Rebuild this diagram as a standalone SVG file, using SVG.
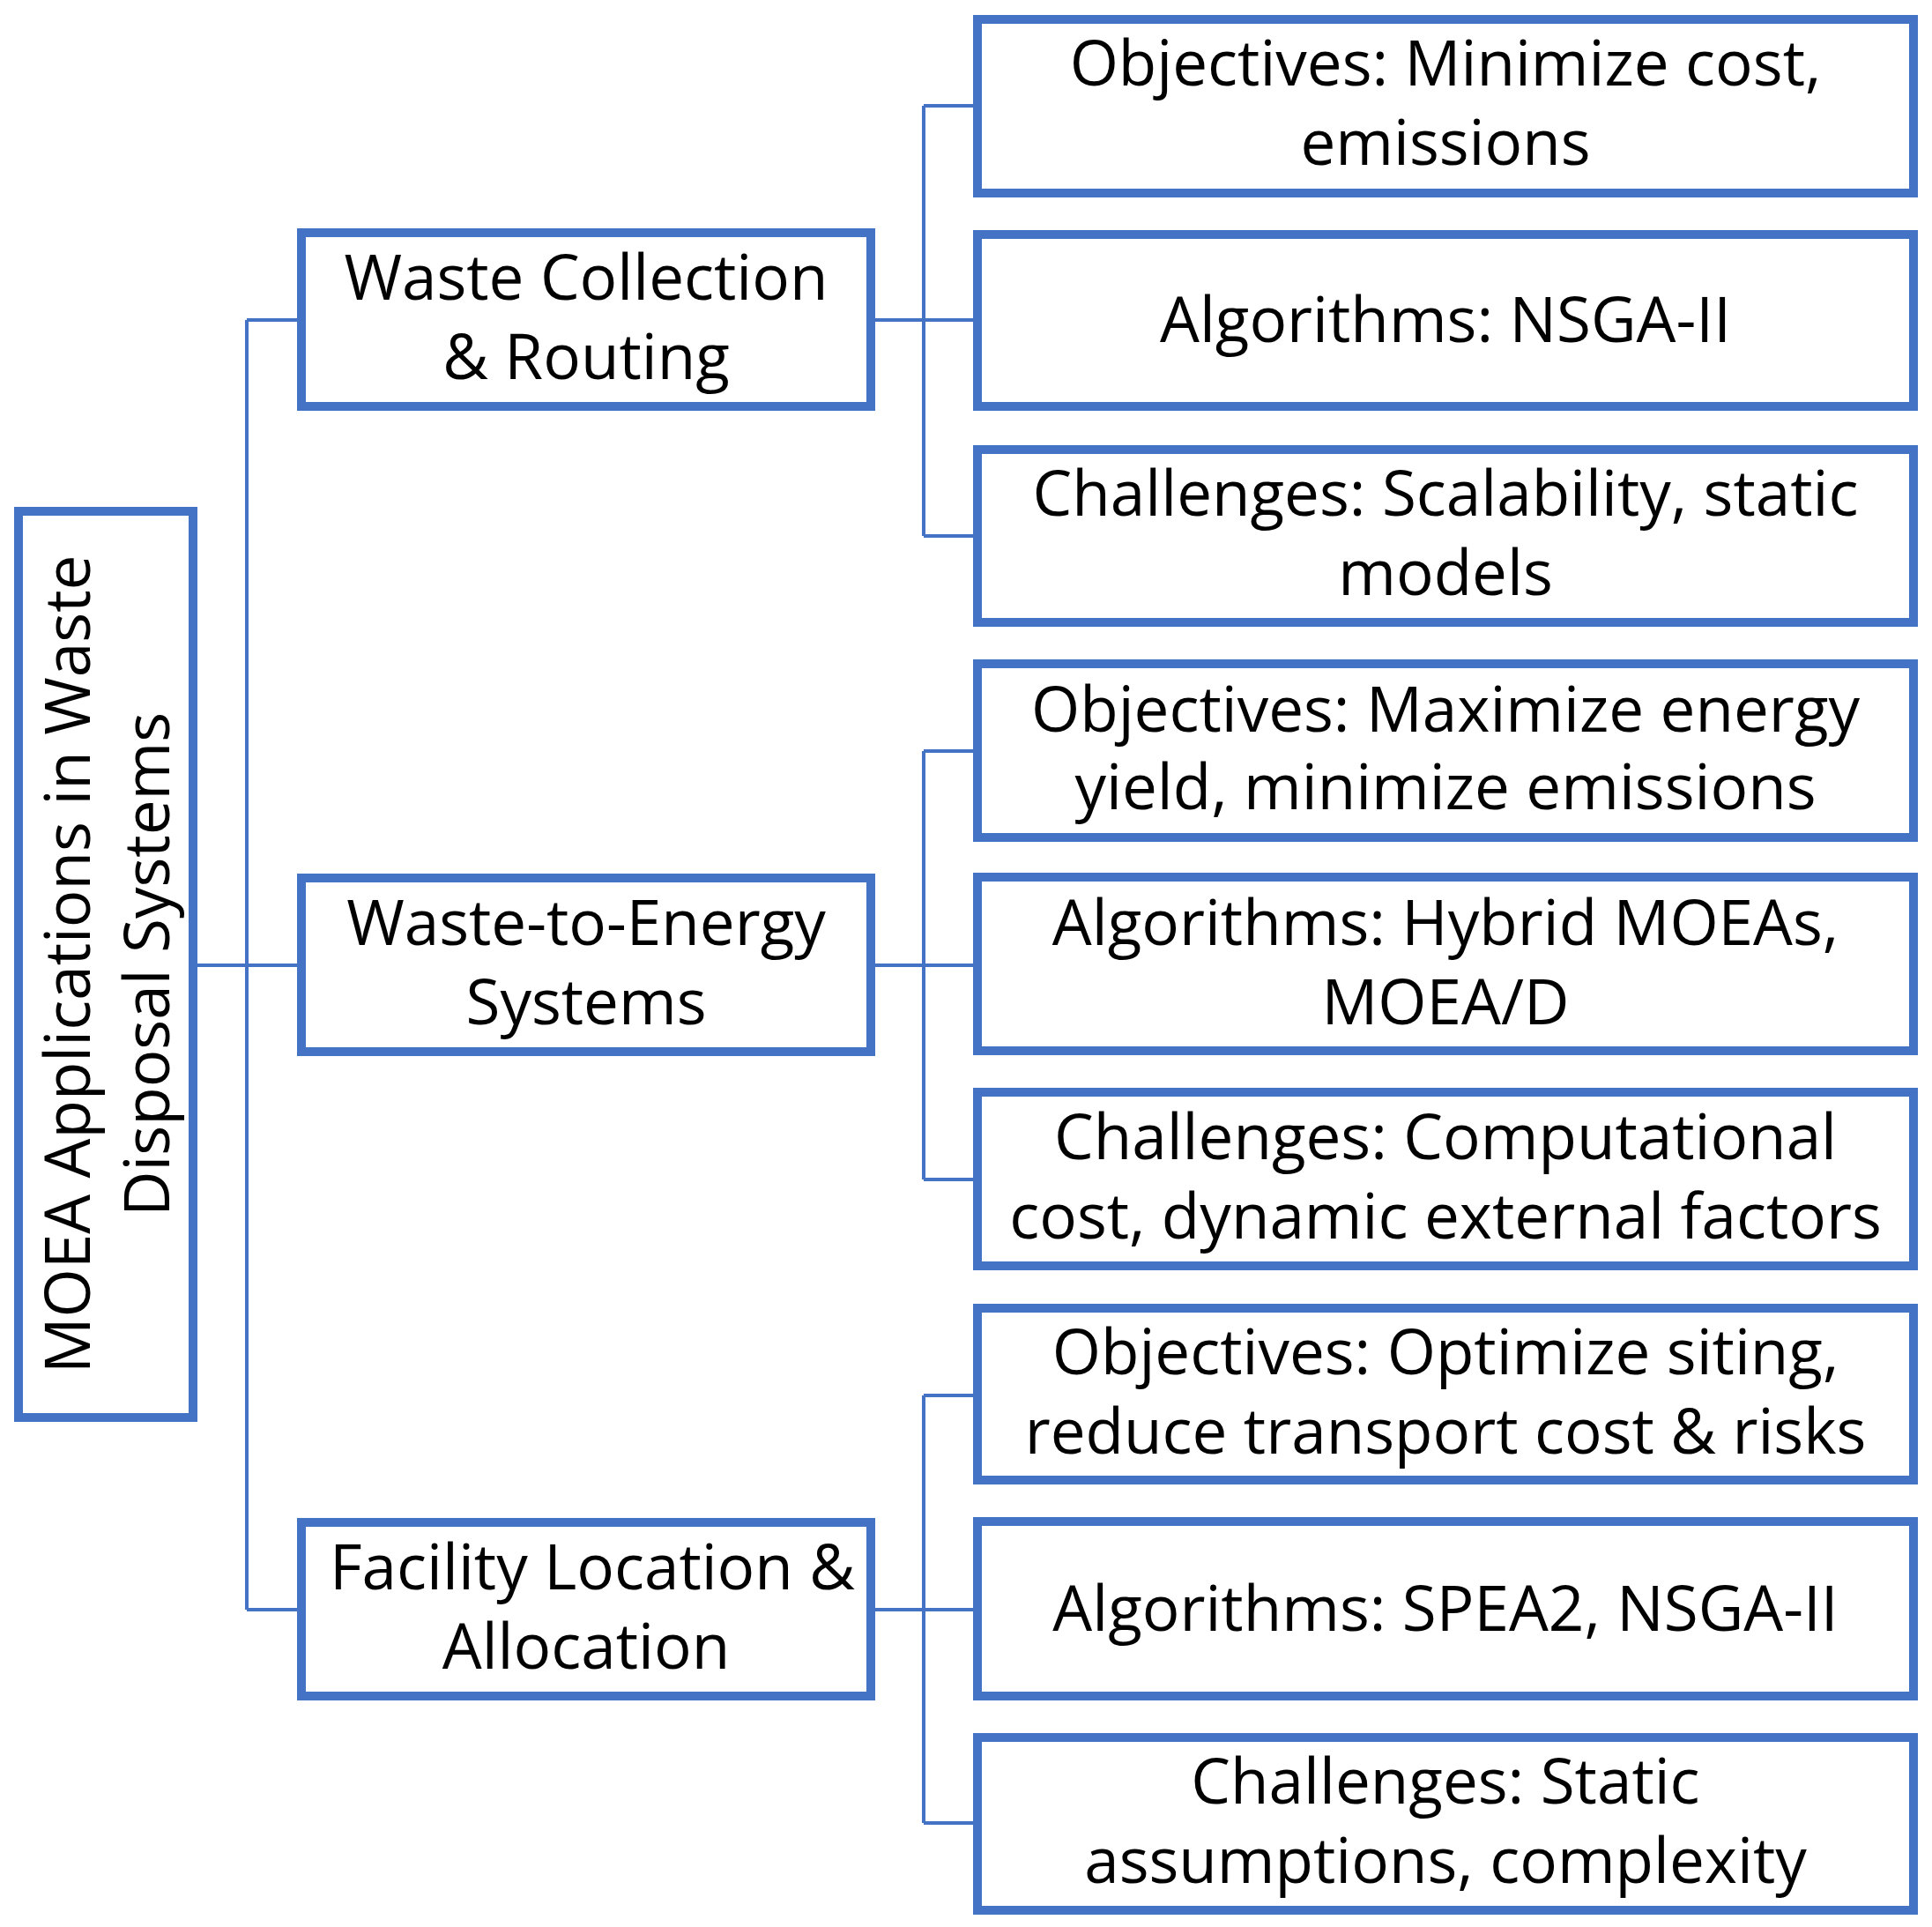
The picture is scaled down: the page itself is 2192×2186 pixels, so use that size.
<svg xmlns="http://www.w3.org/2000/svg" width="2192" height="2186" viewBox="0 0 2192 2186">
<style>
.b{fill:#fff;stroke:#4472C4;stroke-width:10}
.t{font-family:"Open Sans","Noto Sans",sans-serif;font-size:71px;fill:#000;text-anchor:middle}
.c{fill:none;stroke:#4472C4;stroke-width:4}
</style>
<rect width="2192" height="2186" fill="#fff"/>
<g id="connectors" class="c">
<path d="M219 1095H280M280 363V1826M280 363H342M280 1095H342M280 1826H342"/>
<path d="M988 363H1109M1048 120V608M1048 120H1109M1048 608H1109"/>
<path d="M988 1095H1109M1048 852V1338M1048 852H1109M1048 1338H1109"/>
<path d="M988 1826H1109M1048 1583V2068M1048 1583H1109M1048 2068H1109"/>
</g>
<g id="root"><rect class="b" x="21" y="580" width="198" height="1028"/>
<text class="t" transform="translate(120 1094) rotate(-90)"><tspan x="0" y="-18">MOEA Applications in Waste</tspan><tspan x="0" y="72">Disposal Systems</tspan></text></g>
<g id="n1"><rect class="b" x="342" y="264" width="646" height="197"/><text class="t" x="665" y="340">Waste Collection<tspan x="665" dy="90">&amp; Routing</tspan></text></g>
<g id="n2"><rect class="b" x="342" y="996" width="646" height="197"/><text class="t" x="665" y="1072">Waste-to-Energy<tspan x="665" dy="90">Systems</tspan></text></g>
<g id="n3"><rect class="b" x="342" y="1727" width="646" height="197"/><text class="t" x="672" y="1803">Facility Location &amp;<tspan x="665" dy="90">Allocation</tspan></text></g>
<g id="a1"><rect class="b" x="1109" y="22" width="1062" height="197"/><text class="t" x="1640" y="97">Objectives: Minimize cost,<tspan x="1640" dy="90">emissions</tspan></text></g>
<g id="a2"><rect class="b" x="1109" y="266" width="1062" height="195"/><text class="t" x="1640" y="388">Algorithms: NSGA-II</text></g>
<g id="a3"><rect class="b" x="1109" y="510" width="1062" height="196"/><text class="t" x="1640" y="585">Challenges: Scalability, static<tspan x="1640" dy="90">models</tspan></text></g>
<g id="b1"><rect class="b" x="1109" y="753" width="1062" height="197"/><text class="t" x="1640" y="830">Objectives: Maximize energy<tspan x="1640" dy="88">yield, minimize emissions</tspan></text></g>
<g id="b2"><rect class="b" x="1109" y="995" width="1062" height="197"/><text class="t" x="1640" y="1072">Algorithms: Hybrid MOEAs,<tspan x="1640" dy="90">MOEA/D</tspan></text></g>
<g id="b3"><rect class="b" x="1109" y="1239" width="1062" height="197"/><text class="t" x="1640" y="1315">Challenges: Computational<tspan x="1640" dy="90">cost, dynamic external factors</tspan></text></g>
<g id="c1"><rect class="b" x="1109" y="1484" width="1062" height="195"/><text class="t" x="1640" y="1559">Objectives: Optimize siting,<tspan x="1640" dy="90">reduce transport cost &amp; risks</tspan></text></g>
<g id="c2"><rect class="b" x="1109" y="1726" width="1062" height="198"/><text class="t" x="1640" y="1850">Algorithms: SPEA2, NSGA-II</text></g>
<g id="c3"><rect class="b" x="1109" y="1971" width="1062" height="196"/><text class="t" x="1640" y="2046">Challenges: Static<tspan x="1640" dy="90">assumptions, complexity</tspan></text></g>
</svg>
